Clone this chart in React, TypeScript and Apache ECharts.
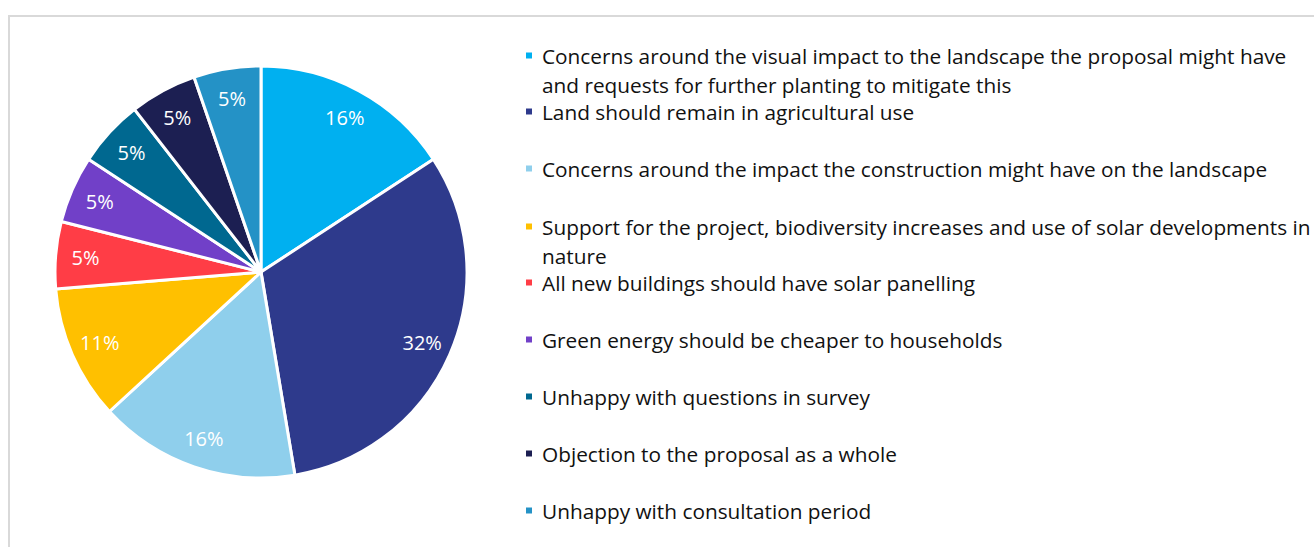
import React, { useEffect, useRef } from "react";
import * as echarts from "echarts";

const categories = [
  "Concerns around the visual impact to the landscape the proposal might have\nand requests for further planting to mitigate this",
  "Land should remain in agricultural use",
  "Concerns around the impact the construction might have on the landscape",
  "Support for the project, biodiversity increases and use of solar developments in\nnature",
  "All new buildings should have solar panelling",
  "Green energy should be cheaper to households",
  "Unhappy with questions in survey",
  "Objection to the proposal as a whole",
  "Unhappy with consultation period",
];
const counts = [3, 6, 3, 2, 1, 1, 1, 1, 1];
const colors = [
  "#00B0F0",
  "#2E3A8C",
  "#8FCFEC",
  "#FFC000",
  "#FF3D46",
  "#7140C8",
  "#006890",
  "#1C1F52",
  "#2492C6",
];
const legendFirstLineY = [56, 112, 169, 227, 283, 340, 397, 454, 511];

const FONT = "Open Sans";

export default function App() {
  const ref = useRef<HTMLDivElement>(null);
  useEffect(() => {
    document.body.style.margin = "0";
    const chart = echarts.init(ref.current!, null, { renderer: "svg" });
    const data = categories.map((name, i) => ({
      name,
      value: counts[i],
      itemStyle: { color: colors[i] },
    }));
    const legends = categories.map((name, i) => {
      const extra = name.split("\n").length - 1;
      return {
        show: true,
        orient: "vertical",
        left: 524,
        top: legendFirstLineY[i] - 15 - 29 * extra,
        padding: 0,
        itemWidth: 8,
        itemHeight: 8,
        icon: "rect",
        data: [name],
        selectedMode: false,
        formatter: (n: string) => "\n".repeat(extra) + n,
        textStyle: {
          fontFamily: FONT,
          fontSize: 20.8,
          color: "#111111",
          lineHeight: 29,
          padding: [0, 0, 0, 4],
        },
      };
    });
    chart.setOption({
      animation: false,
      backgroundColor: "#ffffff",
      textStyle: { fontFamily: FONT },
      graphic: [
        {
          type: "rect",
          silent: true,
          z: -10,
          shape: { x: 9, y: 16, width: 1400, height: 700 },
          style: { fill: "none", stroke: "#d9d9d9", lineWidth: 2 },
        },
      ],
      legend: legends,
      series: [
        {
          type: "pie",
          center: [261, 272],
          radius: [0, 206],
          startAngle: 90,
          clockwise: true,
          avoidLabelOverlap: false,
          label: { show: false },
          labelLine: { show: false },
          itemStyle: { borderColor: "#ffffff", borderWidth: 3 },
          emphasis: { disabled: true },
          data,
        },
        {
          type: "pie",
          center: [261, 272],
          radius: [140, 206],
          startAngle: 90,
          clockwise: true,
          silent: true,
          percentPrecision: 0,
          avoidLabelOverlap: false,
          itemStyle: { color: "rgba(0,0,0,0)", borderWidth: 0 },
          label: {
            show: true,
            position: "inside",
            formatter: "{d}%",
            color: "#ffffff",
            fontSize: 20,
            fontFamily: FONT,
          },
          labelLine: { show: false },
          emphasis: { disabled: true },
          data: categories.map((name, i) => ({ name, value: counts[i] })),
        },
      ],
    });
    return () => chart.dispose();
  }, []);
  return <div ref={ref} style={{ width: 1314, height: 547 }} />;
}
